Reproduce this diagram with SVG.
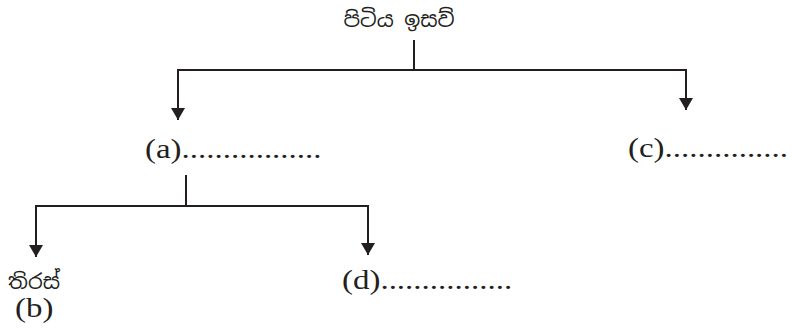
<svg xmlns="http://www.w3.org/2000/svg" width="792" height="331" viewBox="0 0 792 331">
<style>
  .lbl { font-family: "Liberation Serif", "Times New Roman", serif; font-size: 27px; fill: #231f20; }
  .si { font-family: "Noto Sans Sinhala", "Noto Serif Sinhala", "Iskoola Pota", "Noto Sans", sans-serif; font-size: 21px; fill: #231f20; }
  .conn { fill: none; stroke: #231f20; stroke-width: 2; }
</style>
<defs>
  <marker id="arr" markerUnits="userSpaceOnUse" viewBox="0 0 12 14" markerWidth="12" markerHeight="14" refX="12" refY="7" orient="auto">
    <path d="M0,0 L12,7 L0,14 Z" fill="#231f20"/>
  </marker>
</defs>
<rect width="792" height="331" fill="#ffffff"/>
<g id="connectors">
  <path class="conn" d="M414 40 V70"/>
  <path class="conn" d="M177 70 H687"/>
  <path class="conn" d="M178 70 V120" marker-end="url(#arr)"/>
  <path class="conn" d="M686 70 V110" marker-end="url(#arr)"/>
  <path class="conn" d="M186 175 V206"/>
  <path class="conn" d="M35 206 H369"/>
  <path class="conn" d="M36 206 V257" marker-end="url(#arr)"/>
  <path class="conn" d="M368 206 V255" marker-end="url(#arr)"/>
</g>
<g id="root">
  <text class="si" x="399" y="27" text-anchor="middle">පිටිය ඉසව්</text>
</g>
<g id="node-a">
  <text class="lbl" transform="translate(145,158) scale(1.22,1)">(a).................</text>
</g>
<g id="node-c">
  <text class="lbl" transform="translate(628,157) scale(1.22,1)">(c)...............</text>
</g>
<g id="node-b">
  <text class="si" x="8" y="289">තිරස්</text>
  <text class="lbl" transform="translate(15,317) scale(1.22,1)">(b)</text>
</g>
<g id="node-d">
  <text class="lbl" transform="translate(342,289) scale(1.22,1)">(d)................</text>
</g>
</svg>
